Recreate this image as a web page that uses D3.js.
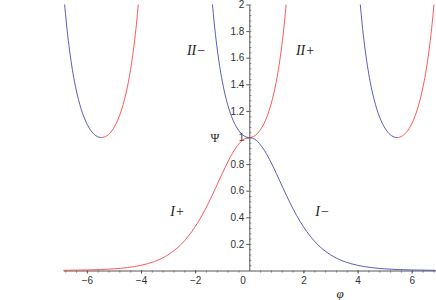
<!DOCTYPE html>
<html>
<head>
<meta charset="utf-8">
<script src="https://cdn.jsdelivr.net/npm/d3@7"></script>
<style>
  body { margin: 0; background: #fff; }
  .tick text { font-family: "Liberation Sans", Arial, sans-serif; font-size: 10px; fill: #333; }
</style>
</head>
<body>
<div id="chart"></div>
<script>
// values: phi (x) and Psi (y) for each branch
var iPlusPhi = [-6.87, -6, -5.5, -5, -4.5, -4, -3.5, -3, -2.5, -2, -1.75, -1.5, -1.25, -1, -0.75, -0.5, -0.25, 0];
var iPlusPsi = [0.0014, 0.0039, 0.007, 0.0124, 0.022, 0.039, 0.068, 0.118, 0.2, 0.329, 0.413, 0.51, 0.618, 0.729, 0.834, 0.921, 0.98, 1.0];

var iMinusPhi = [0, 0.25, 0.5, 0.75, 1, 1.25, 1.5, 1.75, 2, 2.5, 3, 3.5, 4, 4.5, 5, 5.5, 6, 6.87];
var iMinusPsi = [1.0, 0.98, 0.921, 0.834, 0.729, 0.618, 0.51, 0.413, 0.329, 0.2, 0.118, 0.068, 0.039, 0.022, 0.0124, 0.007, 0.0039, 0.0014];

var iiPlusPhi = [0, 0.2, 0.4, 0.6, 0.8, 1.0, 1.1, 1.2, 1.3, 1.36];
var iiPlusPsi = [1.0, 1.013, 1.055, 1.13, 1.248, 1.424, 1.543, 1.689, 1.869, 2.0];

var iiMinusPhi = [-1.36, -1.3, -1.2, -1.1, -1.0, -0.8, -0.6, -0.4, -0.2, 0];
var iiMinusPsi = [2.0, 1.869, 1.689, 1.543, 1.424, 1.248, 1.13, 1.055, 1.013, 1.0];

// the two outer wells
var leftBluePhi = [-6.82, -6.76, -6.66, -6.56, -6.46, -6.26, -6.06, -5.86, -5.66, -5.46];
var leftRedPhi = [-5.46, -5.26, -5.06, -4.86, -4.66, -4.46, -4.36, -4.26, -4.16, -4.10];
var rightBluePhi = [4.10, 4.16, 4.26, 4.36, 4.46, 4.66, 4.86, 5.06, 5.26, 5.46];
var rightRedPhi = [5.46, 5.66, 5.86, 6.06, 6.26, 6.46, 6.56, 6.66, 6.76, 6.82];
var wellDownPsi = [2.0, 1.869, 1.689, 1.543, 1.424, 1.248, 1.13, 1.055, 1.013, 1.0];
var wellUpPsi = [1.0, 1.013, 1.055, 1.13, 1.248, 1.424, 1.543, 1.689, 1.869, 2.0];

var xTicks = [-6, -4, -2, 2, 4, 6];
var yTicks = [0.2, 0.4, 0.6, 0.8, 1, 1.2, 1.4, 1.6, 1.8, 2];

var red = "#ff4646", blue = "#4a4ab4";

var svg = d3.select("#chart").append("svg")
    .attr("width", 436).attr("height", 300);

var x = d3.scaleLinear().domain([-6.87, 6.87]).range([63.3, 435.3]);
var y = d3.scaleLinear().domain([0, 2]).range([270.5, 4.5]);
var fmt = d3.format("~g");

// x axis, ticks below
var xMinor = d3.range(-6.8, 6.81, 0.4).filter(function (d) { return Math.abs(d) > 0.01; });
svg.append("g")
    .attr("transform", "translate(0," + y(0) + ")")
    .call(d3.axisBottom(x).tickValues(xMinor).tickSize(2).tickSizeOuter(0).tickFormat(""))
    .call(function (g) { g.select(".domain").attr("stroke", "#555"); g.selectAll("line").attr("stroke", "#777"); });
svg.append("g")
    .attr("transform", "translate(0," + y(0) + ")")
    .call(d3.axisBottom(x).tickValues(xTicks).tickSize(3).tickSizeOuter(0).tickPadding(3).tickFormat(fmt))
    .call(function (g) { g.select(".domain").remove(); g.selectAll("line").attr("stroke", "#555"); });
svg.append("text")
    .attr("x", 243).attr("y", y(0) + 13)
    .attr("text-anchor", "middle")
    .style("font-family", "Liberation Sans, Arial, sans-serif").style("font-size", "10px").style("fill", "#333")
    .text("0");

// y axis, majors to the left, minors to the right
var yMinor = d3.range(0.04, 2.001, 0.04);
svg.append("g")
    .attr("transform", "translate(" + x(0) + ",0)")
    .call(d3.axisRight(y).tickValues(yMinor).tickSize(2).tickSizeOuter(0).tickFormat(""))
    .call(function (g) { g.select(".domain").attr("stroke", "#555"); g.selectAll("line").attr("stroke", "#777"); });
svg.append("g")
    .attr("transform", "translate(" + x(0) + ",0)")
    .call(d3.axisLeft(y).tickValues(yTicks).tickSize(3).tickSizeOuter(0).tickPadding(2).tickFormat(fmt))
    .call(function (g) { g.select(".domain").remove(); g.selectAll("line").attr("stroke", "#555"); });

var line = d3.line()
    .x(function (d) { return x(d[0]); })
    .y(function (d) { return y(d[1]); })
    .curve(d3.curveMonotoneX);

function pts(a, b) { return d3.zip(a, b); }

// each pair of branches that meet is drawn as one smooth curve,
// clipped so the left part is one colour and the right part the other
function clipAt(id, x0, x1) {
    svg.append("clipPath").attr("id", id).append("rect")
        .attr("x", x0).attr("y", 0).attr("width", x1 - x0).attr("height", 300);
    return "url(#" + id + ")";
}
var pairs = [
    [pts(leftBluePhi, wellDownPsi), pts(leftRedPhi, wellUpPsi), -5.46, "wl", blue, red],
    [pts(iiMinusPhi, iiMinusPsi), pts(iiPlusPhi, iiPlusPsi), 0, "wc", blue, red],
    [pts(rightBluePhi, wellDownPsi), pts(rightRedPhi, wellUpPsi), 5.46, "wr", blue, red],
    [pts(iPlusPhi, iPlusPsi), pts(iMinusPhi, iMinusPsi), 0, "lo", red, blue]
];
pairs.forEach(function (w) {
    var all = w[0].concat(w[1].slice(1));
    svg.append("path").datum(all)
        .attr("fill", "none").attr("stroke", w[4]).attr("stroke-width", 0.9)
        .attr("clip-path", clipAt(w[3] + "a", 0, x(w[2])))
        .attr("d", line);
    svg.append("path").datum(all)
        .attr("fill", "none").attr("stroke", w[5]).attr("stroke-width", 0.9)
        .attr("clip-path", clipAt(w[3] + "b", x(w[2]), 436))
        .attr("d", line);
});

// branch labels
function mathLabel(px, py, roman, sign) {
    var t = svg.append("text")
        .attr("x", px).attr("y", py)
        .attr("text-anchor", "middle")
        .style("font-family", "Liberation Serif, Times New Roman, serif")
        .style("font-size", "14px").style("fill", "#222");
    t.append("tspan").style("font-style", "italic").text(roman);
    t.append("tspan").attr("dx", 1).text(sign);
}
mathLabel(196, 55, "II", "\u2212");
mathLabel(305, 55, "II", "+");
mathLabel(177, 216, "I", "+");
mathLabel(322, 216, "I", "\u2212");

svg.append("text")
    .attr("x", 215).attr("y", 142)
    .attr("text-anchor", "middle")
    .style("font-family", "Liberation Serif, Times New Roman, serif")
    .style("font-size", "12px").style("fill", "#222")
    .text("\u03A8");

svg.append("text")
    .attr("x", 340).attr("y", 298)
    .attr("text-anchor", "middle")
    .style("font-family", "Liberation Serif, Times New Roman, serif")
    .style("font-style", "italic")
    .style("font-size", "13px").style("fill", "#222")
    .text("\u03C6");
</script>
</body>
</html>
